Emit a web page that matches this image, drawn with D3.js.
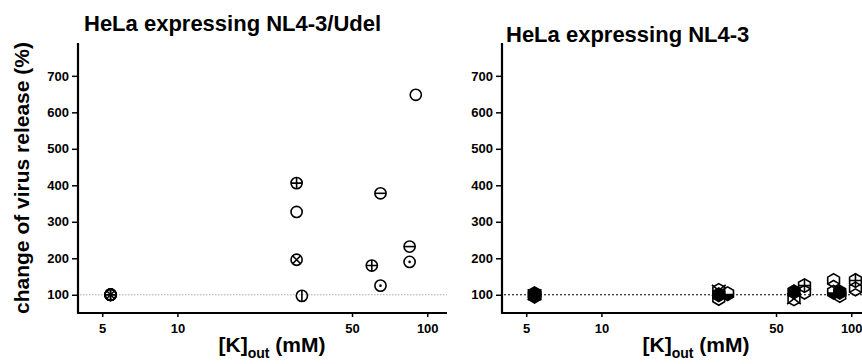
<!DOCTYPE html>
<html>
<head>
<meta charset="utf-8">
<script src="https://cdn.jsdelivr.net/npm/d3@7"></script>
<style>
  body { margin: 0; background: #fff; }
  svg text { font-family: "Liberation Sans", Arial, sans-serif; font-weight: bold; fill: #000; }
</style>
</head>
<body>
<div id="chart"></div>
<script>
// ---- data ----
var xTicks = [5, 10, 50, 100];
var yTicks = [100, 200, 300, 400, 500, 600, 700];
var titles = ["HeLa expressing NL4-3/Udel", "HeLa expressing NL4-3"];
var yLabel = "change of virus release (%)";

// NL4-3/Udel experiments: [K]out (mM) and release (%)
var udelNames = ["e1", "e2", "e3", "e4", "e5", "e6"];
var udelK = [[5.4, 30, 60], [5.4, 30, 90], [5.4, 30], [5.4, 31.5], [5.4, 65, 85], [5.4, 65, 85]];
var udelV = [[100, 406, 180], [100, 327, 648], [100, 196], [100, 97], [100, 378, 232], [100, 125, 190]];

// NL4-3 experiments
var nlNames = ["e1", "e2", "e3", "e4", "e5", "e6"];
var nlK = [[5.4, 29.5, 59], [5.4, 29.5, 59, 90], [5.4, 65, 104], [5.4, 29.5, 65, 90], [5.4, 85, 104], [5.4, 32, 85]];
var nlV = [[100, 112, 89], [103, 100, 108, 107], [100, 125, 139], [96, 90, 107, 98], [100, 139, 116], [100, 103, 107]];

// marker per experiment
var circleMarks = {e1: "plus", e2: "none", e3: "x", e4: "vbar", e5: "minus", e6: "dot"};
var hexMarks = {e1: "x", e2: "fill", e3: "plus", e4: "none", e5: "chevron", e6: "half"};

var W = 862, H = 364;
var svg = d3.select("#chart").append("svg").attr("width", W).attr("height", H);

var panels = [
  {left: 78, right: 447, title: titles[0], tx: 84, ty: 31, names: udelNames, K: udelK, V: udelV,
   marks: circleMarks, shape: "circle", refColor: "#aaa", refDash: "1.5,1.5", refW: 1, xLabelX: 272},
  {left: 502, right: 871, title: titles[1], tx: 506, ty: 42, names: nlNames, K: nlK, V: nlV,
   marks: hexMarks, shape: "hex", refColor: "#000", refDash: "2,2", refW: 1.2, xLabelX: 696}
];

var plotTop = 43, plotBottom = 313;
var y = d3.scaleLinear().domain([50, 790]).range([plotBottom, plotTop]);

function hexPath(r) {
  var pts = d3.range(6).map(function(i) {
    var a = (-90 + 60 * i) * Math.PI / 180;
    return [r * Math.cos(a), r * Math.sin(a)];
  });
  return "M" + pts.join("L") + "Z";
}

function drawCircle(g, kind) {
  var r = 5.6;
  g.append("circle").attr("r", r).attr("fill", "none").attr("stroke", "#000").attr("stroke-width", 1.6);
  var p = "";
  if (kind === "plus") p = "M" + (-r) + ",0H" + r + "M0," + (-r) + "V" + r;
  if (kind === "minus") p = "M" + (-r) + ",0H" + r;
  if (kind === "vbar") p = "M0," + (-r) + "V" + r;
  if (kind === "x") p = "M-4,-4L4,4M-4,4L4,-4";
  if (p) g.append("path").attr("d", p).attr("stroke", "#000").attr("stroke-width", 1.6).attr("fill", "none");
  if (kind === "dot") g.append("circle").attr("r", 1.3).attr("fill", "#000");
}

function drawHex(g, kind) {
  var r = 6.8;
  var hx = r * Math.cos(Math.PI / 6);
  g.append("path").attr("d", hexPath(r))
    .attr("fill", kind === "fill" ? "#000" : "none")
    .attr("stroke", "#000").attr("stroke-width", 1.6);
  var p = "";
  if (kind === "plus") p = "M" + (-hx) + ",0H" + hx + "M0," + (-r) + "V" + r;
  if (kind === "x") p = "M" + (-hx - 1) + "," + (-r / 2 - 2) + "L" + (hx + 1) + "," + (r / 2 + 2) +
    "M" + (-hx - 1) + "," + (r / 2 + 2) + "L" + (hx + 1) + "," + (-r / 2 - 2);
  if (kind === "chevron") p = "M" + (-hx) + "," + (r / 2) + "L0,0L" + hx + "," + (r / 2);
  if (p) g.append("path").attr("d", p).attr("stroke", "#000").attr("stroke-width", 1.6).attr("fill", "none");
  if (kind === "half") {
    g.append("path").attr("d", "M" + (-hx) + ",0H" + hx + "V" + (r / 2) + "L0," + r + "L" + (-hx) + "," + (r / 2) + "Z")
      .attr("fill", "#000");
  }
}

panels.forEach(function(pn) {
  var x = d3.scaleLog().domain([4, 120]).range([pn.left, pn.right]);
  var g = svg.append("g");

  // reference line at 100%
  g.append("line")
    .attr("x1", pn.left + 2).attr("x2", pn.right)
    .attr("y1", y(100)).attr("y2", y(100))
    .attr("stroke", pn.refColor).attr("stroke-width", pn.refW)
    .attr("stroke-dasharray", pn.refDash);

  // axes
  var yAxis = d3.axisLeft(y).tickValues(yTicks).tickSize(6).tickPadding(3).tickFormat(d3.format("d"));
  var gy = g.append("g").attr("transform", "translate(" + pn.left + ",0)").call(yAxis);
  gy.select(".domain").remove();
  gy.selectAll(".tick line").attr("stroke-width", 1.5);
  gy.selectAll("text").style("font-size", "13px");

  var xAxis = d3.axisBottom(x).tickValues(xTicks).tickSize(4).tickPadding(7).tickFormat(d3.format("d"));
  var gx = g.append("g").attr("transform", "translate(0," + plotBottom + ")").call(xAxis);
  gx.select(".domain").remove();
  gx.selectAll(".tick line").attr("stroke-width", 1.5);
  gx.selectAll("text").style("font-size", "13px");

  g.append("line").attr("x1", pn.left).attr("x2", pn.left).attr("y1", plotTop).attr("y2", plotBottom + 1)
    .attr("stroke", "#000").attr("stroke-width", 2.2);
  g.append("line").attr("x1", pn.left - 1).attr("x2", pn.right).attr("y1", plotBottom).attr("y2", plotBottom)
    .attr("stroke", "#000").attr("stroke-width", 2.2);

  // points
  pn.names.forEach(function(name, i) {
    pn.K[i].forEach(function(k, j) {
      var m = g.append("g").attr("transform", "translate(" + x(k) + "," + y(pn.V[i][j]) + ")");
      if (pn.shape === "circle") drawCircle(m, pn.marks[name]);
      else drawHex(m, pn.marks[name]);
    });
  });

  // title
  g.append("text").attr("x", pn.tx).attr("y", pn.ty).style("font-size", "22px").text(pn.title);

  // x label
  var xl = g.append("text").attr("x", pn.xLabelX).attr("y", 352).attr("text-anchor", "middle").style("font-size", "21px");
  xl.append("tspan").text("[K]");
  xl.append("tspan").attr("dy", 6).style("font-size", "14px").text("out");
  xl.append("tspan").attr("dy", -6).text(" (mM)");
});

// y label
svg.append("text")
  .attr("transform", "translate(29,178) rotate(-90)")
  .attr("text-anchor", "middle")
  .style("font-size", "21px")
  .text(yLabel);
</script>
</body>
</html>
